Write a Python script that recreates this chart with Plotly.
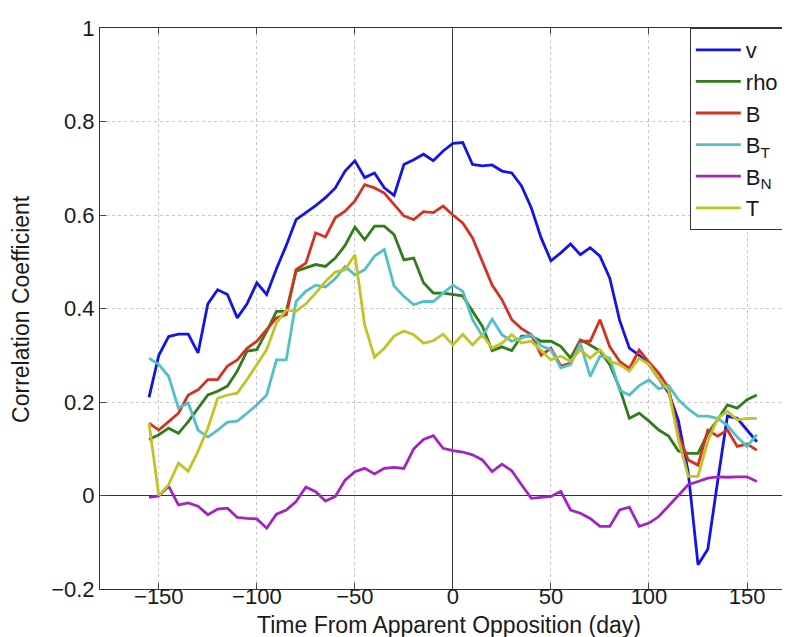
import plotly.graph_objects as go

# days relative to apparent opposition, every 5 days
days = list(range(-155, 160, 5))

v = [0.21, 0.30, 0.34, 0.345, 0.345, 0.305, 0.41, 0.44, 0.43, 0.38,
     0.41, 0.455, 0.43, 0.485, 0.535, 0.59, 0.605, 0.62, 0.637, 0.658,
     0.694, 0.716, 0.68, 0.69, 0.658, 0.642, 0.708, 0.718, 0.73, 0.716,
     0.737, 0.753, 0.755, 0.708, 0.705, 0.707, 0.694, 0.69, 0.662, 0.615,
     0.551, 0.502, 0.519, 0.538, 0.515, 0.53, 0.512, 0.465, 0.375, 0.315,
     0.30, 0.28, 0.25, 0.22, 0.16, 0.05, -0.148, -0.115, 0.03, 0.17,
     0.165, 0.14, 0.115]

rho = [0.12, 0.13, 0.144, 0.133, 0.158, 0.187, 0.215, 0.223, 0.234, 0.266,
       0.309, 0.312, 0.351, 0.394, 0.394, 0.48, 0.487, 0.494, 0.49, 0.508,
       0.535, 0.574, 0.547, 0.576, 0.576, 0.558, 0.504, 0.508, 0.455, 0.433,
       0.433, 0.43, 0.427, 0.394, 0.362, 0.31, 0.318, 0.31, 0.341, 0.341,
       0.33, 0.33, 0.319, 0.294, 0.333, 0.322, 0.309, 0.28, 0.23, 0.165,
       0.176, 0.159, 0.14, 0.127, 0.095, 0.09, 0.09, 0.133, 0.162, 0.194,
       0.187, 0.205, 0.215]

b = [0.155, 0.14, 0.158, 0.176, 0.215, 0.226, 0.248, 0.248, 0.277, 0.29,
     0.315, 0.33, 0.355, 0.38, 0.387, 0.483, 0.497, 0.562, 0.553, 0.594,
     0.608, 0.63, 0.665, 0.658, 0.647, 0.622, 0.598, 0.59, 0.607, 0.605,
     0.619, 0.60, 0.583, 0.551, 0.50, 0.45, 0.419, 0.376, 0.357, 0.344,
     0.30, 0.315, 0.277, 0.283, 0.33, 0.33, 0.376, 0.318, 0.287, 0.272,
     0.311, 0.285, 0.262, 0.23, 0.13, 0.076, 0.065, 0.14, 0.127, 0.14,
     0.105, 0.11, 0.097]

b_t = [0.294, 0.28, 0.255, 0.187, 0.198, 0.14, 0.125, 0.14, 0.157, 0.159,
       0.176, 0.194, 0.215, 0.29, 0.29, 0.415, 0.437, 0.45, 0.446, 0.464,
       0.49, 0.472, 0.483, 0.512, 0.526, 0.448, 0.426, 0.408, 0.415, 0.415,
       0.433, 0.45, 0.437, 0.376, 0.341, 0.377, 0.344, 0.33, 0.337, 0.344,
       0.32, 0.312, 0.273, 0.28, 0.326, 0.255, 0.298, 0.294, 0.225, 0.215,
       0.235, 0.247, 0.228, 0.235, 0.205, 0.185, 0.17, 0.17, 0.165, 0.15,
       0.125, 0.105, 0.13]

b_n = [-0.004, -0.001, 0.02, -0.02, -0.016, -0.023, -0.041, -0.029, -0.027, -0.047,
       -0.049, -0.05, -0.07, -0.04, -0.031, -0.013, 0.018, 0.008, -0.012, -0.002,
       0.033, 0.051, 0.058, 0.046, 0.058, 0.06, 0.058, 0.10, 0.12, 0.128,
       0.101, 0.096, 0.093, 0.087, 0.076, 0.051, 0.067, 0.053, 0.023, -0.006,
       -0.004, -0.002, 0.009, -0.031, -0.038, -0.049, -0.066, -0.066, -0.031, -0.025,
       -0.066, -0.059, -0.045, -0.023, 0.001, 0.023, 0.03, 0.037, 0.04, 0.039,
       0.04, 0.04, 0.03]

t = [0.155, 0.0, 0.023, 0.069, 0.052, 0.095, 0.144, 0.208, 0.215, 0.219,
     0.248, 0.28, 0.312, 0.369, 0.397, 0.394, 0.41, 0.433, 0.458, 0.478,
     0.483, 0.515, 0.365, 0.296, 0.315, 0.341, 0.352, 0.344, 0.326, 0.331,
     0.345, 0.322, 0.345, 0.322, 0.344, 0.315, 0.326, 0.344, 0.326, 0.33,
     0.31, 0.29, 0.298, 0.287, 0.312, 0.294, 0.312, 0.287, 0.28, 0.266,
     0.294, 0.28, 0.25, 0.225, 0.12, 0.041, 0.041, 0.116, 0.165, 0.18,
     0.162, 0.165, 0.165]

x_ticks = [-150, -100, -50, 0, 50, 100, 150]
y_ticks = [-0.2, 0, 0.2, 0.4, 0.6, 0.8, 1]

series = [
    ("v", v, "#1414e6"),
    ("rho", rho, "#2f7d1c"),
    ("B", b, "#d6301f"),
    ("B<sub>T</sub>", b_t, "#52c0c4"),
    ("B<sub>N</sub>", b_n, "#a323c4"),
    ("T", t, "#bfc427"),
]

fig = go.Figure()
for name, vals, color in series:
    fig.add_trace(go.Scatter(x=days, y=vals, mode="lines", name=name,
                             line=dict(color=color, width=2.8)))

_FONT = "Liberation Sans, Arial, sans-serif"
_GRID = "rgba(185,185,185,0.8)"

fig.update_layout(
    width=790, height=637,
    margin=dict(l=92, r=0, t=20, b=56, autoexpand=False),
    paper_bgcolor="white", plot_bgcolor="white",
    font=dict(family=_FONT, size=22, color="#1a1a1a"),
    showlegend=True,
    legend=dict(x=0.845, y=1.0, xanchor="left", yanchor="top",
                bordercolor="#333333", borderwidth=1, bgcolor="white",
                font=dict(size=22), tracegroupgap=0, itemwidth=45),
)
fig.update_xaxes(
    range=[-180, 176], tickvals=x_ticks, ticks="inside", ticklen=6,
    ticklabelstandoff=-12,
    showline=True, linecolor="#333333", linewidth=1, mirror="ticks",
    showgrid=True, gridcolor=_GRID, griddash="dot", gridwidth=1,
    zeroline=True, zerolinecolor="#333333", zerolinewidth=1,
    automargin=False,
)
fig.update_yaxes(
    range=[-0.2, 1], tickvals=y_ticks, ticks="inside", ticklen=6,
    showline=True, linecolor="#333333", linewidth=1, mirror=False,
    showgrid=True, gridcolor=_GRID, griddash="dot", gridwidth=1,
    zeroline=True, zerolinecolor="#333333", zerolinewidth=1,
    automargin=False,
)

# axis titles placed as annotations so they sit where the original has them
fig.add_annotation(text="Time From Apparent Opposition (day)", xref="paper", yref="paper",
                   x=0.5, y=-0.037, xanchor="center", yanchor="top", showarrow=False,
                   font=dict(size=23))
fig.add_annotation(text="Correlation Coefficient", xref="paper", yref="paper",
                   x=-0.114, y=0.5, xanchor="center", yanchor="middle", showarrow=False,
                   textangle=-90, font=dict(size=23))

fig.write_html("out.html")
